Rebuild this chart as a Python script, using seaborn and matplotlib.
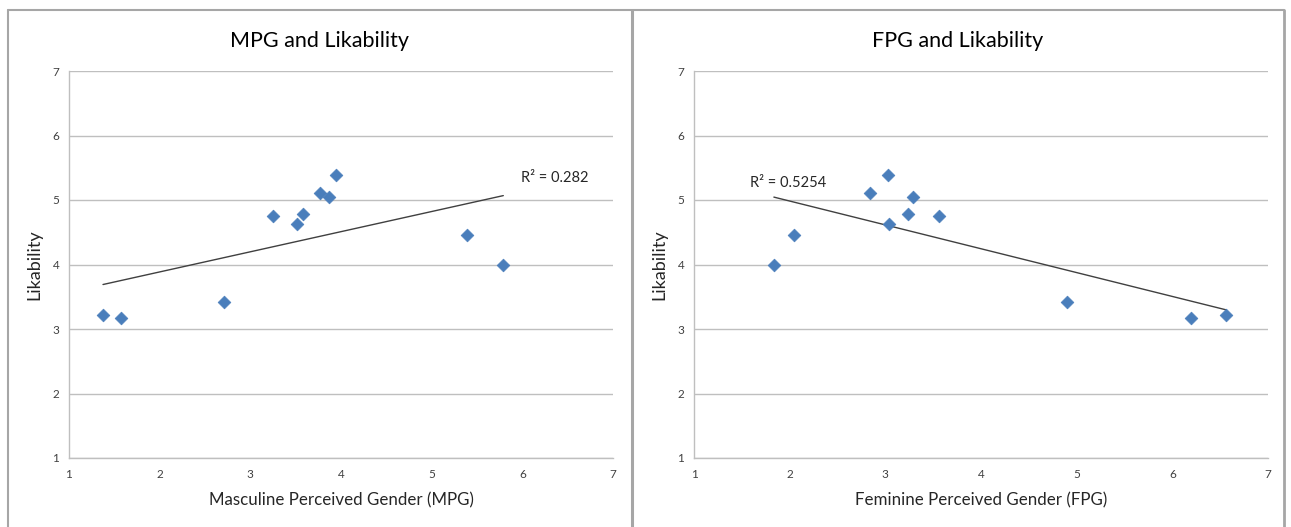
import matplotlib
matplotlib.use("Agg")
import matplotlib.pyplot as plt
import seaborn as sns
import pandas as pd
from matplotlib.lines import Line2D

# ---- data ----
likability = [3.21, 3.17, 3.42, 4.75, 4.635, 4.79, 5.11, 5.05, 5.385, 4.45, 3.995]
mpg = [1.375, 1.574, 2.71, 3.25, 3.51, 3.58, 3.77, 3.87, 3.94, 5.39, 5.79]
fpg = [6.565, 6.19, 4.90, 3.565, 3.04, 3.24, 2.84, 3.29, 3.03, 2.05, 1.835]
titles = ["MPG and Likability", "FPG and Likability"]
xlabels = ["Masculine Perceived Gender (MPG)", "Feminine Perceived Gender (FPG)"]
r2_labels = ["R\u00b2 = 0.282", "R\u00b2 = 0.5254"]
ticks = [1, 2, 3, 4, 5, 6, 7]

df = pd.DataFrame({"MPG": mpg, "FPG": fpg, "Likability": likability})

sns.set_style("white")
plt.rcParams["font.family"] = ["Lato", "DejaVu Sans"]

fig = plt.figure(figsize=(12.91, 5.27), dpi=100)

blue = "#4a7ebb"
grid_c = "#bfbfbf"
tick_c = "#404040"

axes_rects = [
    [69 / 1291, 1 - 458 / 527, 544 / 1291, 387 / 527],
    [694 / 1291, 1 - 458 / 527, 574 / 1291, 387 / 527],
]
title_x = [(320 - 69) / 544, (958 - 694) / 574]
r2_pos = [(5.99, 5.34), (1.59, 5.26)]

for i, xcol in enumerate(["MPG", "FPG"]):
    ax = fig.add_axes(axes_rects[i])
    sns.regplot(data=df, x=xcol, y="Likability", ax=ax, scatter=False, ci=None,
                truncate=True, line_kws=dict(color="#404040", lw=1.0, zorder=3))
    sns.scatterplot(data=df, x=xcol, y="Likability", ax=ax, marker="D", s=42,
                    color=blue, edgecolor=blue, linewidth=0.5, zorder=4)
    ax.set_xlim(1, 7)
    ax.set_ylim(1, 7)
    ax.set_xticks(ticks)
    ax.set_yticks(ticks)
    ax.yaxis.grid(True, color=grid_c, lw=1.0)
    ax.set_axisbelow(True)
    for s in ["top", "right"]:
        ax.spines[s].set_visible(False)
    for s in ["left", "bottom"]:
        ax.spines[s].set_color(grid_c)
        ax.spines[s].set_linewidth(1.0)
    ax.tick_params(axis="both", which="both", length=3, width=1, color=grid_c,
                   labelsize=8.5, labelcolor=tick_c, direction="out", pad=4)
    ax.tick_params(axis="x", pad=5)
    ax.set_title(titles[i], fontsize=15.5, pad=17, color="black", x=title_x[i])
    ax.set_xlabel(xlabels[i], fontsize=12.2, labelpad=9, color="#262626")
    ax.set_ylabel("Likability", fontsize=13, labelpad=7, color="#262626")
    ax.text(r2_pos[i][0], r2_pos[i][1], r2_labels[i], fontsize=10.5,
            ha="left", va="center", color="#262626")

# chart area frames (Excel-style)
frame_c = "#a6a6a6"
def fl(x0, y0, x1, y1, lw=1.5):
    fig.add_artist(Line2D([x0 / 1291, x1 / 1291], [1 - y0 / 527, 1 - y1 / 527],
                          color=frame_c, lw=lw, transform=fig.transFigure))

fl(8, 10, 1284, 10)
fl(8, 10, 8, 527)
fl(632, 10, 632, 527, lw=2.2)
fl(1284, 10, 1284, 527, lw=2.0)

fig.savefig("out.png", dpi=100)
